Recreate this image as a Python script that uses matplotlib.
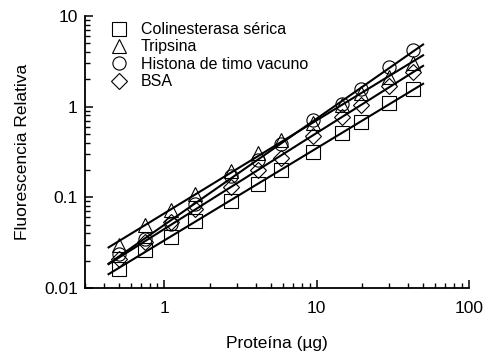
import numpy as np
import matplotlib
matplotlib.use('Agg')
import matplotlib.pyplot as plt
from matplotlib.ticker import LogLocator, FixedLocator, FuncFormatter

plt.rcParams['font.family'] = ['Liberation Sans', 'DejaVu Sans']

# protein amounts (ug), shared by all series
proteina = [0.5, 0.75, 1.1, 1.6, 2.75, 4.1, 5.8, 9.5, 14.7, 19.5, 30, 43]

colinesterasa = [0.0164, 0.026, 0.037, 0.055, 0.090, 0.142, 0.198, 0.319, 0.513, 0.678, 1.10, 1.55]
tripsina = [0.0296, 0.050, 0.073, 0.110, 0.194, 0.309, 0.43, 0.66, 1.05, 1.40, 2.1, 3.0]
histona = [0.024, 0.035, 0.051, 0.085, 0.17, 0.26, 0.391, 0.706, 1.08, 1.58, 2.74, 4.18]
bsa = [0.021, 0.0322, 0.0535, 0.075, 0.130, 0.202, 0.272, 0.473, 0.769, 1.03, 1.69, 2.41]

nombres = ['Colinesterasa sérica', 'Tripsina', 'Histona de timo vacuno', 'BSA']
marcadores = ['s', '^', 'o', 'D']

fig = plt.figure(figsize=(4.9, 3.53), dpi=100)
ax = fig.add_axes([0.173, 0.184, 0.784, 0.771])

x = np.array(proteina)
x_fit = np.array([0.43, 50])

for serie, m, nombre in zip([colinesterasa, tripsina, histona, bsa], marcadores, nombres):
    y = np.array(serie)
    ms = 8 if m == 'D' else 9.5
    ax.plot(x, y, m, mfc='none', mec='black', mew=0.8, ms=ms, label=nombre)
    # power law fit (straight line in log-log)
    p = np.polyfit(np.log10(x), np.log10(y), 1)
    ax.plot(x_fit, 10 ** np.polyval(p, np.log10(x_fit)), color='black', lw=1.5)

ax.set_xscale('log')
ax.set_yscale('log')
ax.set_xlim(0.3, 100)
ax.set_ylim(0.01, 10)

fmt = FuncFormatter(lambda v, pos: '%g' % v)
ax.xaxis.set_major_locator(FixedLocator([1, 10, 100]))
ax.yaxis.set_major_locator(FixedLocator([0.01, 0.1, 1, 10]))
ax.xaxis.set_major_formatter(fmt)
ax.yaxis.set_major_formatter(fmt)
ax.xaxis.set_minor_locator(LogLocator(base=10, subs=np.arange(2, 10)))
ax.yaxis.set_minor_locator(LogLocator(base=10, subs=np.arange(2, 10)))

for s in ['top', 'right']:
    ax.spines[s].set_visible(False)
for s in ['left', 'bottom']:
    ax.spines[s].set_linewidth(1.3)

ax.tick_params(which='major', direction='in', length=6, width=1.1, labelsize=12.5)
ax.tick_params(axis='x', which='major', pad=9)
ax.tick_params(axis='y', which='major', pad=5)
ax.tick_params(which='minor', direction='in', length=3.5, width=1.0)

ax.set_xlabel('Proteína (\u00b5g)', fontsize=12.5, labelpad=15)
ax.set_ylabel('Fluorescencia Relativa', fontsize=12.5, labelpad=10)

ax.legend(loc='upper left', bbox_to_anchor=(0.03, 1.03), frameon=False,
          fontsize=11.5, handlelength=1.0, handletextpad=0.9,
          labelspacing=0.15, numpoints=1)

fig.savefig('out.png', dpi=100)
